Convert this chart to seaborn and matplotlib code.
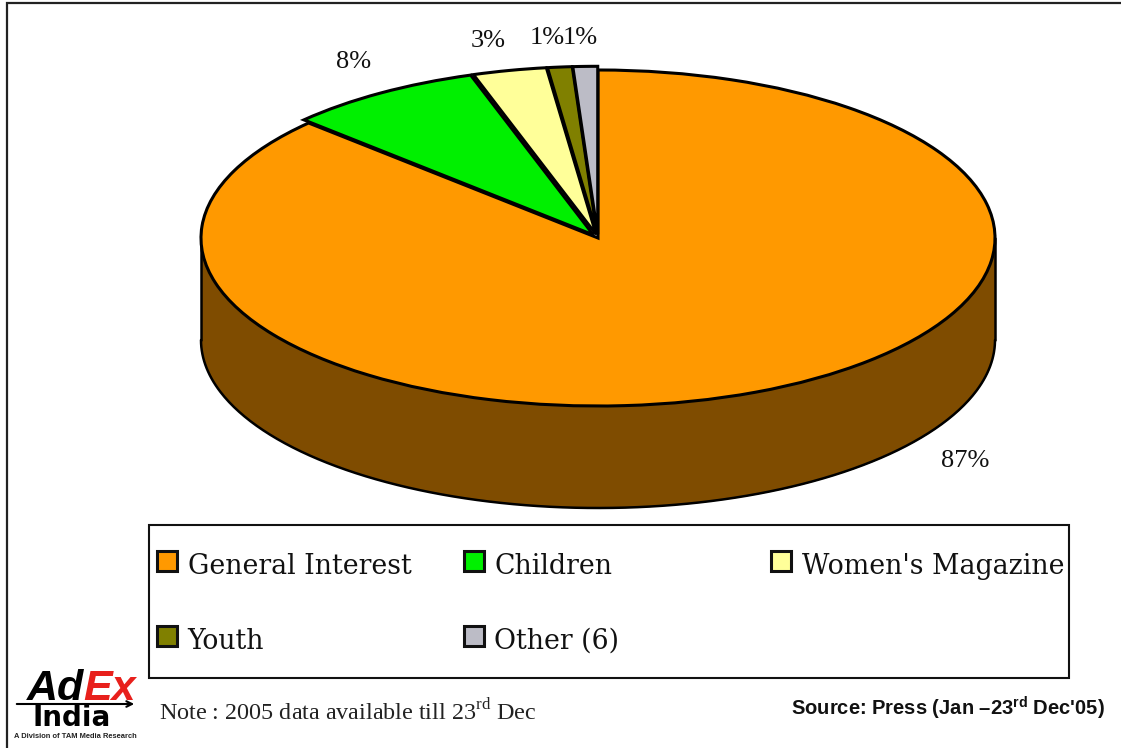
#!/usr/bin/env python3

import numpy as np
import matplotlib
matplotlib.use("Agg")
import matplotlib.pyplot as plt
from matplotlib.patches import Rectangle
import seaborn

categories = ["General Interest", "Children", "Women's Magazine", "Youth", "Other (6)"]
shares = [87, 8, 3, 1, 1]
colors = ["#FF9900", "#00F000", "#FFFF99", "#808000", "#BCBCC6"]
side_color = "#7F4C00"
note_text = "Note : 2005 data available till 23$^{\\mathrm{rd}}$ Dec"
source_text = "Source: Press (Jan \u201323$^{\\mathbf{rd}}$ Dec'05)"

W, H = 1121, 748
# pie centre and ellipse radii, in pixels
CX, CY, RX, RY = 598, 238, 397, 168
DEPTH = 102

seaborn.set_style("white")
plt.rcParams["mathtext.fontset"] = "custom"
plt.rcParams["mathtext.rm"] = "Liberation Serif"
plt.rcParams["mathtext.bf"] = "Liberation Sans:bold"

fig = plt.figure(figsize=(W / 100, H / 100), dpi=100, facecolor="white")

# pie axes: one data unit is one radius, so the circle comes out as an ellipse
ax = fig.add_axes([0, 0, 1, 1])
theta = np.linspace(np.pi, 2 * np.pi, 300)
ax.fill_between(np.cos(theta), np.sin(theta) - DEPTH / RY, np.sin(theta),
                color=side_color, lw=0, zorder=0)
ax.plot(np.cos(theta), np.sin(theta) - DEPTH / RY, color="black", lw=1.8, zorder=1)
ax.plot([-1, -1], [0, -DEPTH / RY], color="black", lw=1.8, zorder=1)
ax.plot([1, 1], [0, -DEPTH / RY], color="black", lw=1.8, zorder=1)
ax.pie(shares, colors=colors, startangle=90, counterclock=False, radius=1,
       explode=[0, 0.022, 0.022, 0.022, 0.022],
       wedgeprops={"edgecolor": "black", "linewidth": 2.2, "zorder": 2})
ax.set_aspect("auto")
ax.set_xlim(-CX / RX, (W - CX) / RX)
ax.set_ylim(-(H - CY) / RY, CY / RY)

# overlay axes in image pixels for text and legend
ov = fig.add_axes([0, 0, 1, 1], facecolor="none")
ov.set_xlim(0, W)
ov.set_ylim(H, 0)
ov.axis("off")

# frame lines of the picture
ov.plot([7, 7, W], [H, 3, 3], color="#222222", lw=1.6, solid_joinstyle="miter")

# percent labels
label_xy = [(965, 461), (354, 62), (488, 41), (547, 38), (580, 38)]
for share, (x, y) in zip(shares, label_xy):
    ov.text(x, y, f"{share}%", family="Liberation Serif", fontsize=19,
            ha="center", va="center", color="#111111")

# legend
ov.add_patch(Rectangle((148.5, 525), 920.5, 153, fc="white", ec="#111111", lw=1.5, zorder=3))
legend_xy = [(156.5, 551), (463.5, 551), (770.5, 551), (156.5, 626), (463.5, 626)]
for name, col, (x, y) in zip(categories, colors, legend_xy):
    ov.add_patch(Rectangle((x, y), 20, 20, fc=col, ec="#111111", lw=2.2, zorder=4))
    ov.text(x + 31, y + 23, name, family="DejaVu Serif", fontsize=19.3,
            ha="left", va="baseline", color="#111111", zorder=4)

# footer
ov.text(159, 712, note_text, family="Liberation Serif", fontsize=17.4,
        ha="left", va="center", color="#222222")
ov.text(1105, 708, source_text, family="Liberation Sans", fontweight="bold",
        fontsize=14.5, ha="right", va="center", color="#111111")

# logo
ov.text(27, 700, "Ad", family="Liberation Sans", fontweight="bold", style="italic",
        fontsize=31, ha="left", va="baseline", color="black")
ov.text(83, 700, "Ex", family="Liberation Sans", fontweight="bold", style="italic",
        fontsize=31, ha="left", va="baseline", color="#E8201C")
ov.text(72, 726, "India", family="DejaVu Sans", fontweight="bold", fontsize=20,
        ha="center", va="baseline", color="black")
ov.annotate("", xy=(137, 704), xytext=(14, 704),
            arrowprops={"arrowstyle": "->", "color": "black", "lw": 1.5})
ov.text(75, 737, "A Division of TAM Media Research", family="Liberation Sans",
        fontweight="bold", fontsize=5.4, ha="center", va="center", color="#222222")

plt.savefig("out.png", format="png", dpi=100)
